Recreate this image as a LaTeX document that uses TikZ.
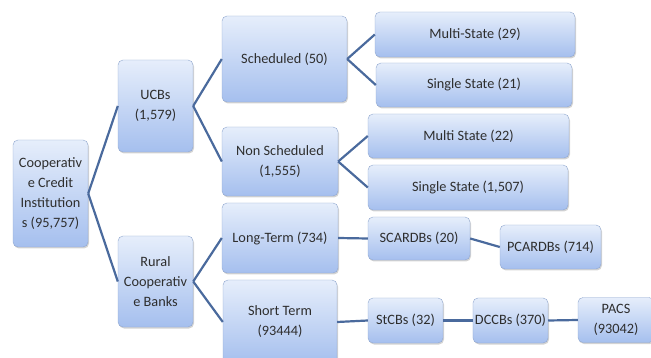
\documentclass[tikz,border=0pt]{standalone}
\usepackage{fontspec}
\setmainfont{Carlito}
\usetikzlibrary{positioning,shadows}
\definecolor{boxtop}{HTML}{E6EEFB}
\definecolor{boxbot}{HTML}{A5BFEE}
\definecolor{boxline}{HTML}{90A7CF}
\definecolor{linkblue}{HTML}{4A6A9D}
\definecolor{txtgray}{HTML}{2E2E2E}
\tikzset{dims/.style 2 args={minimum width=#1pt,minimum height=#2pt}}
\tikzstyle{org chart}=[
    x=1pt,y=-1pt,
    every node/.style={
        align=center,
        text=txtgray,
        font=\fontsize{14.3}{20}\selectfont,
    },
    link/.style={draw=linkblue,line width=2.2pt},
]
\tikzstyle{unit}=[
    draw=boxline, rounded corners=5pt, inner sep=2pt,
    top color=boxtop, bottom color=boxbot,
    drop shadow={opacity=0.35,shadow xshift=1pt,shadow yshift=-1.5pt},
]

\begin{document}
\begin{tikzpicture}[org chart]
        \useasboundingbox (0,0) rectangle (651,358);
        \clip (0,0) rectangle (651,358);

        % first and second level
        \node[unit, dims={75}{107}] (coop) at (50.5,193.5) {Cooperativ\\e Credit\\Institution\\s (95,757)};
        \node[unit, dims={75}{92}] (ucb) at (155.5,106) {UCBs\\(1,579)};
        \node[unit, dims={75}{91}] (rcb) at (155.5,281.5) {Rural\\Cooperativ\\e Banks};

        % third level
        \node[unit, dims={125}{86}] (sched) at (284.5,59) {Scheduled (50)};
        \node[unit, dims={116}{69}] (nsched) at (280,161.5) {Non Scheduled\\(1,555)};
        \node[unit, dims={116}{70}] (long) at (280,238) {Long-Term (734)};
        \node[unit, dims={114}{84}] (short) at (280,322) {Short Term\\(93444)};

        % leaves
        \node[unit, dims={200}{45}] (ms29) at (475,34.5) {Multi-State (29)};
        \node[unit, dims={196}{44}] (ss21) at (474,85) {Single State (21)};
        \node[unit, dims={201}{44}] (ms22) at (468.5,136) {Multi State (22)};
        \node[unit, dims={200}{45}] (ss1507) at (468,187.5) {Single State (1,507)};
        \node[unit, dims={102}{43}] (scardb) at (419,238.5) {SCARDBs (20)};
        \node[unit, dims={101}{44}] (pcardb) at (550.5,247) {PCARDBs (714)};
        \node[unit, dims={75}{45}] (stcb) at (405.5,320.5) {StCBs (32)};
        \node[unit, dims={75}{45}] (dccb) at (510.5,320.5) {DCCBs (370)};
        \node[unit, dims={76}{45}] (pacs) at (616,320) {PACS\\(93042)};

        \path[link]
            (coop.east) edge (ucb.west)
            (coop.east) edge (rcb.west)
            (ucb.east) edge (sched.west)
            (ucb.east) edge (nsched.west)
            (rcb.east) edge (long.west)
            (rcb.east) edge (short.west)
            (sched.east) edge (ms29.west)
            (sched.east) edge (ss21.west)
            (nsched.east) edge (ms22.west)
            (nsched.east) edge (ss1507.west)
            (long.east) edge (scardb.west)
            (scardb.east) edge (pcardb.west)
            (short.east) edge (stcb.west)
            (stcb.east) edge (dccb.west)
            (dccb.east) edge (pacs.west)
        ;
    \end{tikzpicture}
\end{document}
